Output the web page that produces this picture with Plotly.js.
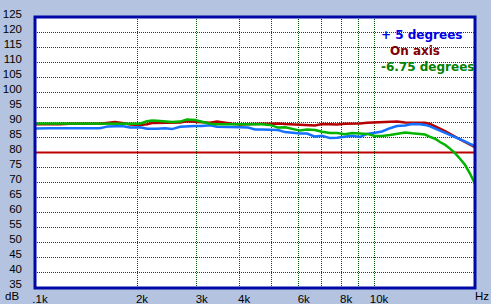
<!DOCTYPE html>
<html>
<head>
<meta charset="utf-8">
<script src="https://cdn.plot.ly/plotly-3.0.1.min.js"></script>
<style>html,body{margin:0;padding:0;background:#b4c4e0;}</style>
</head>
<body>
<div id="chart" style="width:491px;height:304px;"></div>
<script>
// Frequencies (Hz)
const freqs = [1000,1034,1107,1185,1268,1358,1453,1555,1642,1722,1806,1906,2040,2140,2214,2290,2418,2536,2678,2808,2965,3109,3283,3443,3636,3813,4025,4250,4457,4673,4934,5210,5465,5731,6050,6346,6699,7024,7417,7780,8212,8612,9093,9537,10068,10559,11148,11691,12346,12945,13669,14141,14632,15134,15656,16196,16755,17333,17932,18549,19195,19862];
// +5 degrees (dB)
const plus5 = [88.0,88.1,88.1,88.1,88.1,88.1,88.1,88.1,88.7,88.8,88.8,88.3,88.4,87.9,87.8,87.9,88.1,87.8,88.6,88.8,88.8,88.8,89.1,88.6,88.6,88.5,88.4,88.3,87.7,87.7,87.5,87.5,86.8,86.5,86.3,86.3,85.3,85.6,84.8,84.9,85.4,85.6,85.2,86.2,86.6,87.0,88.1,88.8,89.0,89.5,89.4,89.2,88.7,88.0,87.3,86.7,86.0,85.2,84.4,83.7,82.9,82.2];
// On axis (dB)
const onAxis = [89.4,89.4,89.3,89.4,89.6,89.5,89.6,89.6,90.0,90.2,89.8,89.3,89.2,89.4,89.8,89.8,89.8,89.9,90.0,90.4,90.2,89.9,89.9,90.3,89.8,89.6,89.3,89.5,89.6,89.6,89.6,89.7,89.5,89.4,89.3,89.1,89.0,89.5,89.3,89.3,89.6,89.6,89.7,89.9,90.0,90.0,90.0,90.3,90.0,90.0,90.0,89.9,89.5,88.8,88.0,87.1,86.3,85.3,84.4,83.5,82.6,81.8];
// -6.75 degrees (dB)
const minus675 = [89.7,89.7,89.7,89.7,89.7,89.7,89.7,89.7,89.5,89.5,89.5,89.5,89.6,90.4,90.7,90.6,90.3,90.2,90.3,91.0,90.8,90.3,89.6,89.4,89.4,89.4,89.5,89.6,89.4,89.4,89.2,88.3,88.4,88.0,87.3,87.7,87.5,86.9,86.5,86.5,86.1,86.5,86.3,86.2,85.5,85.5,85.8,86.2,86.7,86.4,86.3,86.0,85.2,84.6,83.5,82.6,81.3,79.8,77.9,75.9,73.0,69.5];
const refLevel = 80;
const seriesNames = ["+ 5 degrees", "On axis", "-6.75 degrees"];

const xTickVals = [1000,2000,3000,4000,5000,6000,7000,8000,9000,10000];
const xTickText = [".1k","2k","3k","4k","","6k","","8k","","10k"];
const yTickVals = [35,40,45,50,55,60,65,70,75,80,85,90,95,100,105,110,115,120,125];
const yTickText = yTickVals.map(String);

const gridCol = "#005800";
const traces = [
  {x: freqs, y: onAxis, name: seriesNames[1], mode: "lines", line: {color: "#b40000", width: 2.5}},
  {x: freqs, y: plus5, name: seriesNames[0], mode: "lines", line: {color: "#1470ff", width: 2.5}},
  {x: freqs, y: minus675, name: seriesNames[2], mode: "lines", line: {color: "#00b400", width: 2.5}}
];

const fontFam = "Liberation Sans, Arial, sans-serif";
const legFam = "DejaVu Sans, Liberation Sans, sans-serif";
const tickSize = 11.5;
const layout = {
  width: 491, height: 304,
  margin: {l: 35, r: 16, t: 17, b: 16, pad: 0},
  paper_bgcolor: "#b4c4e0",
  plot_bgcolor: "#ffffff",
  showlegend: false,
  font: {family: fontFam, size: tickSize, color: "#000"},
  xaxis: {
    type: "log", range: [3, 3 + 440/339],
    tickvals: xTickVals, ticktext: xTickText,
    showgrid: true, gridcolor: gridCol, gridwidth: 1, griddash: "1px,1px",
    zeroline: false, showline: false, ticks: "",
    ticklabelshift: 5, ticklabelstandoff: 2,
    tickfont: {family: fontFam, size: tickSize, color: "#000"}
  },
  yaxis: {
    range: [35 - 1/6, 125 + 1/6],
    tickvals: yTickVals, ticktext: yTickText,
    showgrid: true, gridcolor: gridCol, gridwidth: 1, griddash: "1px,1px",
    zeroline: false, showline: false, ticks: "",
    ticklabelstandoff: 12, ticklabelshift: -4,
    tickfont: {family: fontFam, size: tickSize, color: "#000"}
  },
  shapes: [
    {type: "line", xref: "paper", x0: 0, x1: 1, yref: "y", y0: refLevel, y1: refLevel,
     line: {color: "#c00000", width: 2}, layer: "between"},
    {type: "rect", xref: "paper", yref: "paper", x0: 0, x1: 1, y0: 0, y1: 1,
     line: {color: "#0008a8", width: 3}, layer: "above"}
  ],
  annotations: [
    {xref: "paper", yref: "paper", x: 345/440, y: (288-35)/271, xanchor: "left", yanchor: "middle", borderpad: 0,
     text: "<b>" + seriesNames[0] + "</b>", showarrow: false, font: {family: legFam, size: 12, color: "#0000e6"}},
    {xref: "paper", yref: "paper", x: 354/440, y: (288-51)/271, xanchor: "left", yanchor: "middle", borderpad: 0,
     text: "<b>" + seriesNames[1] + "</b>", showarrow: false, font: {family: legFam, size: 12, color: "#800000"}},
    {xref: "paper", yref: "paper", x: 345/440, y: (288-66.5)/271, xanchor: "left", yanchor: "middle", borderpad: 0,
     text: "<b>" + seriesNames[2] + "</b>", showarrow: false, font: {family: legFam, size: 12, color: "#008000"}},
    {xref: "paper", yref: "paper", x: (3-35)/440, y: (288-296)/271, xanchor: "left", yanchor: "middle",
     text: "dB", showarrow: false, font: {family: fontFam, size: tickSize, color: "#000"}},
    {xref: "paper", yref: "paper", x: (491-35)/440, y: (288-296)/271, xanchor: "right", yanchor: "middle",
     text: "Hz", showarrow: false, font: {family: fontFam, size: tickSize, color: "#000"}}
  ]
};
Plotly.newPlot("chart", traces, layout, {staticPlot: true, displayModeBar: false});
</script>
</body>
</html>
